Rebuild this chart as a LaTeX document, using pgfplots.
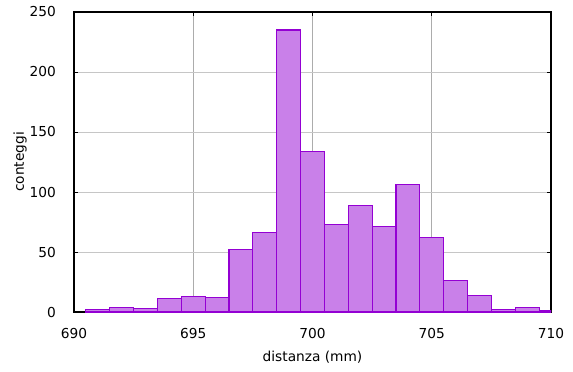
\documentclass[border=0pt]{standalone}
\usepackage{pgfplots}
\pgfplotsset{compat=1.18}
\usepackage{fontspec}
\setmainfont{DejaVu Sans}
\definecolor{barfill}{RGB}{201,128,233}
\definecolor{baredge}{RGB}{148,0,211}
\begin{document}
\begin{tikzpicture}
\begin{axis}[
  scale only axis,
  width=357.75pt, height=225pt,
  xmin=690, xmax=710, ymin=0, ymax=250,
  xtick={690,695,...,710},
  ytick={0,50,...,250},
  grid=major,
  major grid style={gray!65, line width=0.6pt},
  y grid style={gray!45, line width=0.6pt},
  axis line style={black, line width=0.8pt},
  tick align=inside,
  major tick length=3pt,
  tick style={black, line width=0.6pt},
  xtick pos=both, ytick pos=both,
  font=\fontsize{10.3}{12}\selectfont,
  /pgf/number format/assume math mode=true,
  /pgf/number format/1000 sep={},
  xlabel={distanza (mm)},
  ylabel={conteggi},
  xlabel style={at={(axis description cs:0.5,0)}, anchor=north, yshift=-26pt},
  ylabel style={at={(axis description cs:0,0.5)}, anchor=south, yshift=32pt},
  xticklabel style={yshift=-8.5pt},
  yticklabel style={xshift=-10pt},
]
\addplot[ybar, bar width=1, bar shift=0pt, fill=barfill, draw=baredge, line width=0.8pt]
coordinates {
(691,2) (692,4) (693,3) (694,11) (695,13) (696,12) (697,52) (698,66)
(699,235) (700,134) (701,73) (702,89) (703,71) (704,106) (705,62)
(706,26) (707,14) (708,2) (709,4) (710,1.5)
};
\end{axis}
\pgfresetboundingbox
\path[use as bounding box] (-55.5pt,-44.25pt) rectangle (374.25pt,234pt);
\end{tikzpicture}
\end{document}
